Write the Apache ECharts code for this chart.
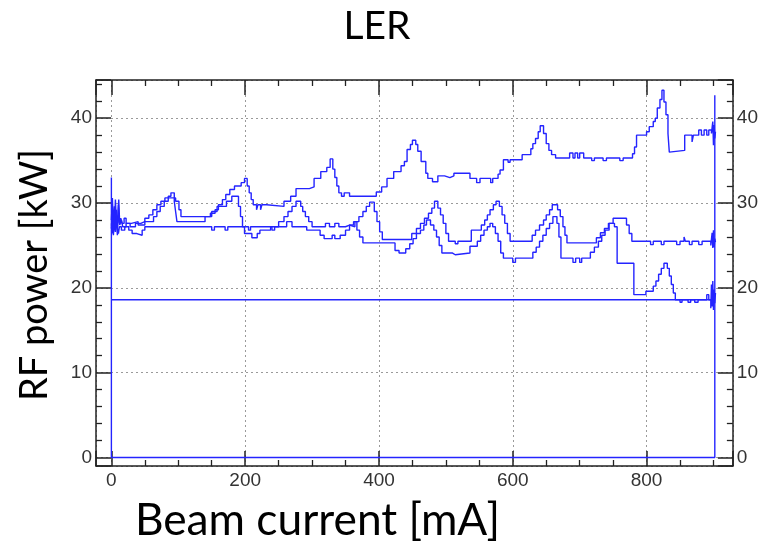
<!DOCTYPE html>
<html><head><meta charset="utf-8">
<script src="https://cdn.jsdelivr.net/npm/echarts@6/dist/echarts.min.js"></script>
<style>html,body{margin:0;padding:0;background:#fff}#c{width:761px;height:546px}</style>
</head><body><div id="c"></div>
<script>
const titleText = 'LER';
const xTitle = 'Beam current [mA]';
const yTitle = 'RF power [kW]';
const xRange = [-23, 929];
const yRange = [-1, 44.5];

// top trace [beam current mA, RF power kW]
const upperTrace = [
[0,28.0],[1.5,30.6],[3,27.2],[4.5,29.6],[6,26.8],[7.5,28.6],[9,27.2],[11,30.4],[12.5,27.4],[15,28.0],[17,27.2],[22,27.6],[28,27.2],[36,27.6],[44,27.8],[50,28.2],[56,28.6],[62,29.2],[68,29.8],[74,30.2],[80,30.6],[96,30.2],[101,29.2],[104,28.4],
[148,28.8],[155,29.2],[160,29.8],[166,30.4],[171,31.0],[177,31.6],[184,32.0],[194,32.4],[199,32.9],[203,32.0],[206,31.2],[209,30.4],[212,29.8],[217,29.2],[219,29.8],[223,29.2],[225,29.8],[232,29.6],[258,30.2],[268,30.8],[276,31.7],[296,31.9],[303,32.9],[313,33.7],[322,34.2],[327,35.2],[331,34.0],[334,33.0],[337,32.0],[340,31.2],[344,30.8],[348,31.2],[356,30.8],
[396,31.3],[404,31.9],[412,32.9],[422,33.7],[433,34.4],[438,34.9],[442,36.3],[447,36.9],[450,37.4],[455,36.9],[458,36.1],[463,34.9],[470,33.5],[473,32.9],[480,32.5],[488,33.2],[498,33.0],[506,33.2],[512,33.5],[536,32.9],[546,32.4],[551,32.9],[567,32.4],[570,32.9],[578,33.4],[581,33.9],[586,35.1],[593,34.8],[596,35.1],[614,35.7],[627,36.4],[630,37.0],[634,37.6],[638,38.4],[641,39.1],[646,38.2],[650,37.0],[654,36.2],[658,35.7],[664,35.3],
[685,35.9],[690,35.3],[693,35.9],[697,35.3],[700,35.9],[706,35.3],[718,35.0],[722,35.3],[735,35.0],[740,35.3],[760,35.0],[765,35.3],[779,35.8],[782,36.6],[785,38.0],[800,38.4],[804,39.0],[810,39.6],[813,40.0],[816,41.2],[820,42.2],[823,43.3],[826,41.9],[829,40.4],[832,38.2],[834,36.0],[836,36.2],[857,38.0],[868,37.2],[870,38.0],[878,38.6],[882,38.0],[886,38.6],[890,38.0],[893,38.6],[897,38.2],[899,39.6],[900,36.8],[901,39.2],[902,37.6],[903,38.4],[904,38.4]
];

// middle trace
const middleTrace = [
[0,27.6],[1.5,26.4],[3,29.0],[4.5,27.0],[6,30.4],[7.5,27.6],[9,26.2],[10.5,29.8],[12,27.6],[14,28.2],[16,27.6],[19,28.2],[22,27.6],[30,27.8],[40,27.4],[50,27.8],[58,27.8],[63,28.4],[68,29.0],[73,29.6],[79,30.2],[85,30.8],[89,31.2],[94,30.2],[96,29.0],[98,27.8],
[140,28.4],[150,29.0],[158,29.6],[172,30.2],[180,30.8],[190,29.6],[193,28.4],[196,27.2],[199,26.4],[210,25.9],[218,26.4],[222,26.8],[238,27.2],[250,27.8],[258,28.4],[264,29.0],[270,29.6],[276,30.2],[283,29.6],[286,29.0],[290,28.4],[295,27.8],[300,27.2],
[320,27.6],[326,27.2],[334,27.6],[340,27.2],[350,27.4],[356,27.2],[364,27.8],[370,28.4],[376,29.0],[381,29.6],[386,30.1],[393,29.0],[397,27.8],[401,26.6],[405,25.7],
[449,26.4],[456,27.0],[462,27.6],[468,28.2],[474,28.8],[479,29.4],[483,30.2],[488,29.4],[492,28.6],[496,27.6],[500,26.4],[504,25.5],[514,25.2],[518,25.5],[538,26.8],[553,27.4],[558,28.0],[562,28.6],[566,29.2],[571,29.8],[575,30.2],[580,29.6],[584,28.6],[588,27.6],[592,26.4],[596,25.5],
[629,26.2],[634,26.8],[640,27.4],[646,28.0],[650,28.6],[655,29.2],[659,29.8],[667,29.2],[671,28.4],[675,27.2],[678,26.2],[681,25.3],
[725,25.9],[731,26.5],[737,27.0],[743,27.6],[750,28.2],[770,27.4],[774,26.4],[778,25.5],
[800,25.5],[806,25.1],[810,25.5],[822,25.1],[826,25.5],[845,25.1],[850,25.5],[856,26.0],[858,25.5],[864,25.1],[868,25.5],[878,25.1],[883,25.5],[896,25.0],[898,26.5],[899,24.7],[900,26.8],[901,24.8],[902,25.8],[903,25.4]
];

// lower trace
const lowerTrace = [
[0,27.0],[1.5,28.6],[3,26.2],[4.5,27.8],[6,26.6],[7.5,29.2],[9,27.0],[10.5,26.4],[12,27.2],[15,26.8],[20,27.2],[26,26.8],[31,26.4],[38,26.2],[46,26.8],[50,27.2],
[150,26.8],[154,27.2],[170,26.8],[174,27.2],[205,26.8],[208,27.2],[240,26.8],[244,27.2],
[262,27.8],[270,27.2],[292,26.8],[312,26.2],[318,25.8],[330,26.2],[334,25.8],[342,26.2],[350,26.8],[356,27.4],[362,27.8],[367,26.8],[371,26.0],[376,25.3],
[424,24.4],[430,24.1],[440,24.6],[446,25.2],[451,25.8],[456,26.4],[462,26.8],[467,27.4],[471,28.0],[477,27.4],[482,26.8],[486,26.0],[490,25.0],[494,24.1],[510,23.9],[514,24.1],
[536,24.9],[547,25.5],[552,26.2],[557,26.8],[562,27.2],[566,27.6],[570,27.2],[574,26.4],[578,25.5],[582,24.1],[586,23.5],[600,23.0],[604,23.5],
[630,24.2],[635,24.8],[640,25.5],[645,26.2],[650,27.0],[655,27.6],[660,28.4],[666,27.6],[669,26.0],[672,23.5],[690,23.0],[694,23.5],[700,23.0],[703,23.5],
[716,24.2],[722,24.8],[728,25.5],[733,26.2],[738,26.8],[744,27.6],[752,27.2],[756,22.9],
[781,19.2],[799,19.6],[810,20.2],[814,20.8],[818,21.6],[822,22.3],[826,22.9],[831,22.3],[834,21.4],[837,20.4],[840,19.4],[843,18.6],
[850,18.3],[853,18.6],[862,18.3],[866,18.6],[872,18.3],[877,18.6],[890,19.2],[893,18.6],[896,17.6],[897,20.4],[898,17.8],[899,20.8],[900,17.4],[901,19.8],[902,18.2],[903,19.4]
];

// outline of the recorded graph (zero line and end verticals)
const outlineTrace = [[0,33.0],[0,0],[902,0],[902,42.7]];
// flat reference level
const floorTrace = [[0,18.6],[902,18.6]];

const ctx = document.createElement('canvas').getContext('2d');
function fitSize(text, family, width) {
  ctx.font = '100px ' + family;
  return 100 * width / ctx.measureText(text).width;
}
const titleFont = 'Lato';
const titleSize = fitSize(titleText, titleFont, 67);
const xTitleSize = fitSize(xTitle, titleFont, 365);
const yTitleSize = fitSize(yTitle, titleFont, 252);

const axisColor = '#222';
const labelStyle = {fontSize:19, fontFamily:'Liberation Sans', color:'#333'};
function xAx(pos, labels) {
  return {type:'value', min:xRange[0], max:xRange[1], splitNumber:5, position:pos,
    axisLine:{show:true,onZero:false,lineStyle:{color:axisColor,width:1.5}},
    axisTick:{show:true,inside:true,length:15,lineStyle:{color:axisColor,width:1.5}},
    minorTick:{show:true,splitNumber:4,length:6,lineStyle:{color:axisColor,width:1.3}},
    axisLabel:Object.assign({show:labels, margin:5, showMinLabel:false, showMaxLabel:false}, labelStyle),
    splitLine:{show:labels,lineStyle:{color:'#9a9a9a',type:[2,3],width:1}}};
}
function yAx(pos, grid) {
  return {type:'value', min:yRange[0], max:yRange[1], splitNumber:5, position:pos,
    axisLine:{show:true,onZero:false,lineStyle:{color:axisColor,width:1.5}},
    axisTick:{show:true,inside:true,length:15,lineStyle:{color:axisColor,width:1.5}},
    minorTick:{show:true,splitNumber:5,length:6,lineStyle:{color:axisColor,width:1.3}},
    axisLabel:Object.assign({show:true, margin:4, showMinLabel:false, showMaxLabel:false}, labelStyle),
    splitLine:{show:grid,lineStyle:{color:'#9a9a9a',type:[2,3],width:1}}};
}
const lineStyle = {color:'#2424ff', width:1.4};
function ser(data, step) {
  const s = {type:'line', data:data, showSymbol:false, symbol:'none', lineStyle:lineStyle, silent:true, animation:false, xAxisIndex:0, yAxisIndex:0};
  if (step) s.step = 'end';
  return s;
}
const chart = echarts.init(document.getElementById('c'), null, {renderer:'canvas'});
chart.setOption({
  animation:false,
  backgroundColor:'#ffffff',
  grid:{left:96, right:28, top:80, bottom:80, containLabel:false},
  xAxis:[xAx('bottom', true), xAx('top', false)],
  yAxis:[yAx('left', true), yAx('right', false)],
  series:[ser(outlineTrace,false), ser(floorTrace,false), ser(upperTrace,true), ser(middleTrace,true), ser(lowerTrace,true)],
  graphic:[
    {type:'text', x:377, y:26, style:{text:titleText, font:titleSize.toFixed(1)+'px '+titleFont, fill:'#000', textAlign:'center', textVerticalAlign:'middle'}},
    {type:'text', x:317.5, y:521, style:{text:xTitle, font:xTitleSize.toFixed(1)+'px '+titleFont, fill:'#000', textAlign:'center', textVerticalAlign:'middle'}},
    {type:'text', x:35, y:275, rotation:Math.PI/2, style:{text:yTitle, font:yTitleSize.toFixed(1)+'px '+titleFont, fill:'#000', textAlign:'center', textVerticalAlign:'middle'}}
  ]
});
</script></body></html>
